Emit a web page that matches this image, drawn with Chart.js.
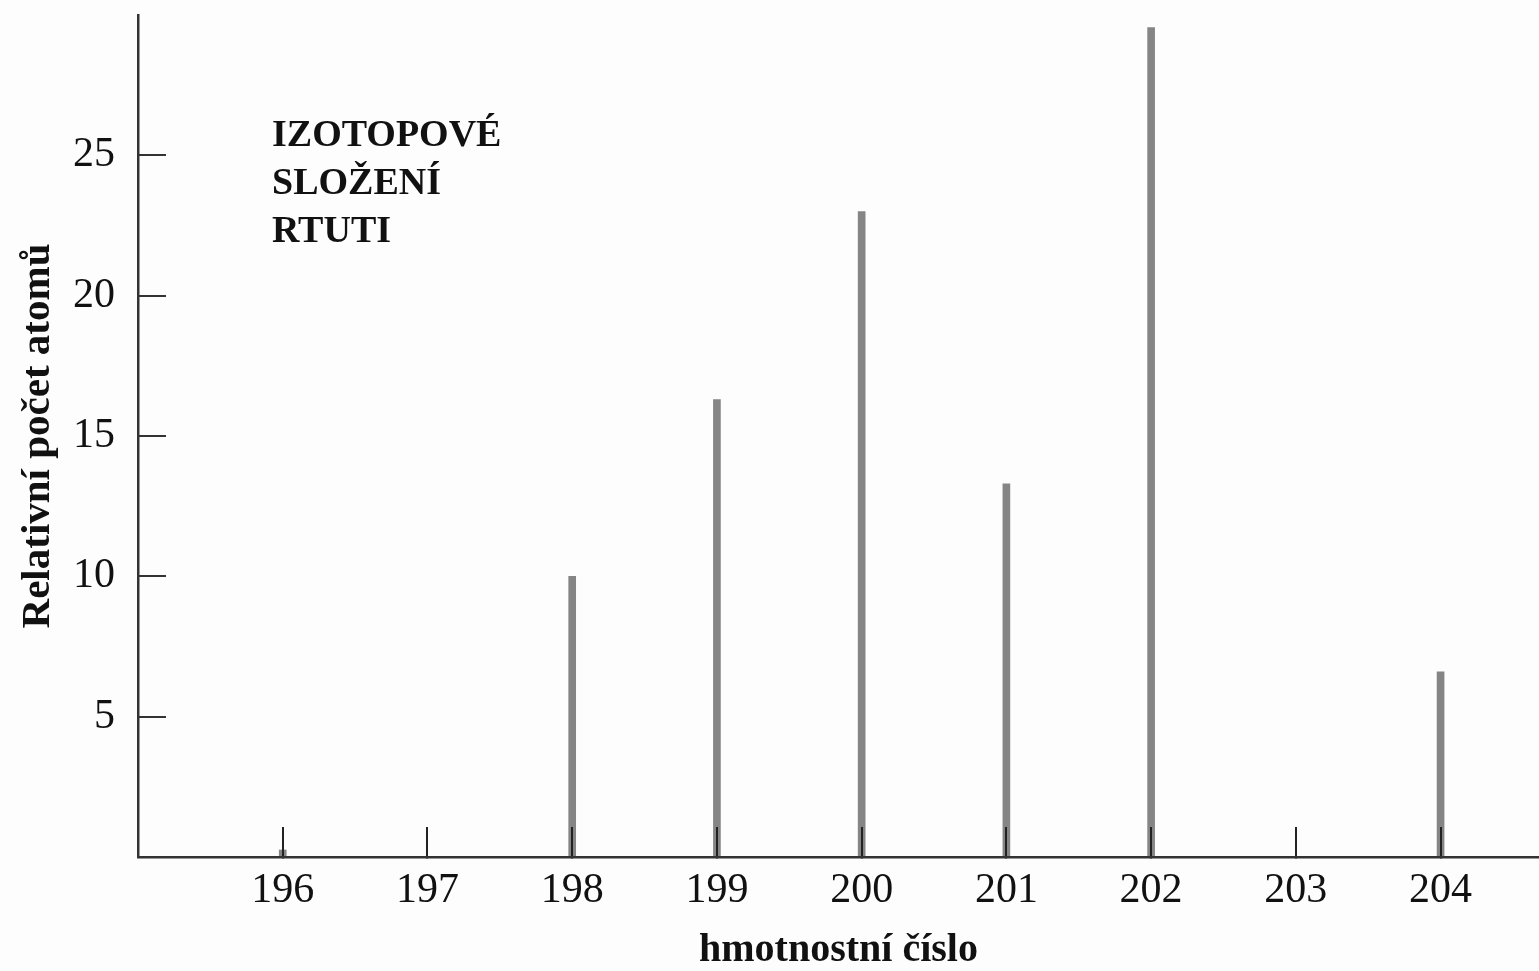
<!DOCTYPE html>
<html>
<head>
<meta charset="utf-8">
<script src="https://cdn.jsdelivr.net/npm/chart.js@4"></script>
<style>
  body { margin: 0; background: #fdfdfd; }
  #wrap { width: 1539px; height: 971px; }
</style>
</head>
<body>
<div id="wrap"><canvas id="chart"></canvas></div>
<script>
// izotopy rtuti
const massNumbers = [196, 197, 198, 199, 200, 201, 202, 203, 204];
const abundance = [0.25, 0, 10.0, 16.3, 23.0, 13.3, 29.55, 0, 6.6];
const xTicks = [196, 197, 198, 199, 200, 201, 202, 203, 204];
const yTicks = [5, 10, 15, 20, 25];
const noteLines = ['IZOTOPOVÉ', 'SLOŽENÍ', 'RTUTI'];

const serif = '"Liberation Serif", "Times New Roman", serif';

// popisek v grafu
const notePlugin = {
    id: 'note',
    afterDraw(chart) {
        const c = chart.ctx;
        c.save();
        c.font = 'bold 38px ' + serif;
        c.fillStyle = '#111';
        c.textBaseline = 'alphabetic';
        noteLines.forEach((t, i) => c.fillText(t, 272, 146 + i * 48));
        c.restore();
    }
};

new Chart(document.getElementById('chart'), {
    type: 'bar',
    data: {
        datasets: [{
            data: massNumbers.map((m, i) => ({ x: m, y: abundance[i] })),
            backgroundColor: '#858585',
            barThickness: 7
        }]
    },
    options: {
        responsive: true,
        maintainAspectRatio: false,
        animation: false,
        layout: { padding: { top: 15, left: 0, right: 0, bottom: 0 } },
        plugins: { legend: { display: false }, tooltip: { enabled: false } },
        scales: {
            x: {
                type: 'linear',
                min: 195,
                max: 204.68,
                offset: false,
                afterBuildTicks: s => { s.ticks = xTicks.map(v => ({ value: v })); },
                afterFit: s => { s.height = 114; s.paddingLeft = 0; s.paddingRight = 0; },
                // tiky nad sloupci
                grid: { z: 1, offset: false, drawOnChartArea: false, drawTicks: true, tickLength: -30, color: '#222', lineWidth: 2 },
                border: { z: 1, display: true, color: '#333', width: 2.5 },
                ticks: { padding: 39, color: '#111', font: { family: serif, size: 42 } },
                title: {
                    display: true,
                    text: 'hmotnostní číslo',
                    color: '#111',
                    font: { family: serif, size: 40, weight: 'bold' },
                    padding: { top: 0, bottom: -4 }
                }
            },
            y: {
                min: 0,
                max: 30,
                afterBuildTicks: s => { s.ticks = yTicks.map(v => ({ value: v })); },
                afterFit: s => { s.width = 138; s.paddingTop = 0; s.paddingBottom = 0; },
                grid: { drawOnChartArea: false, drawTicks: true, tickLength: -28, color: '#333', lineWidth: 2 },
                border: { display: true, color: '#333', width: 2.5 },
                ticks: { padding: 51, color: '#111', font: { family: serif, size: 42 } },
                title: {
                    display: true,
                    text: 'Relativní počet atomů',
                    color: '#111',
                    font: { family: serif, size: 41, weight: 'bold' },
                    padding: { top: 14, bottom: 0 }
                }
            }
        }
    },
    plugins: [notePlugin]
});
</script>
</body>
</html>
